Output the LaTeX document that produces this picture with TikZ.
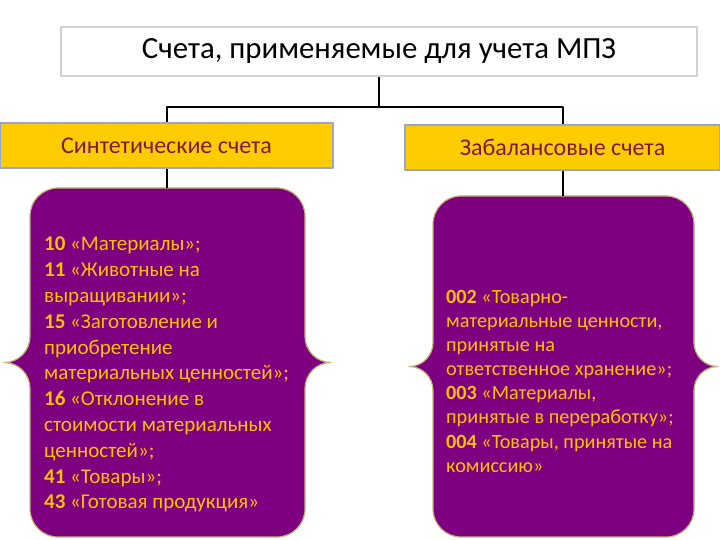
\documentclass[tikz,border=0pt]{standalone}
\usepackage{fontspec}
\setmainfont{Carlito}
\definecolor{plumfill}{RGB}{126,0,128}
\definecolor{plumedge}{RGB}{196,180,120}
\definecolor{goldtext}{RGB}{255,192,0}
\definecolor{barfill}{RGB}{255,204,0}
\definecolor{baredge}{RGB}{155,165,200}
\definecolor{bartext}{RGB}{128,24,56}
\tikzset{
  titlebox/.style={draw=black!18, line width=2pt, fill=white, minimum width=636pt, minimum height=49pt, inner sep=0pt, font=\fontsize{30.8}{36}\selectfont},
  accbar/.style={draw=baredge, line width=1.5pt, fill=barfill, minimum height=45pt, inner sep=0pt, text=bartext, font=\fontsize{24}{28}\selectfont},
  plaque/.style={fill=plumfill, draw=plumedge, line width=1.2pt},
  plaquetext/.style={anchor=north west, inner sep=0pt, align=left, text=goldtext},
  link/.style={draw=black, line width=1.8pt}
}
\begin{document}
\begin{tikzpicture}[x=1pt, y=1pt, line join=round]
  \useasboundingbox (0,0) rectangle (720,540);
  % Заголовок
  \node[titlebox] (title) at (379,488.5) {Счета, применяемые для учета МПЗ};
  % Виды счетов
  \node[accbar, minimum width=333pt] (synth) at (166.5,394.5) {Синтетические счета};
  \node[accbar, minimum width=315pt] (offbal) at (562.5,392.5) {Забалансовые счета};
  % Фигурные блоки
  \filldraw[plaque] (58,352) -- (277,352) arc[start angle=90, end angle=0, radius=28]
    -- (305,203.5) arc[start angle=180, end angle=270, radius=26] arc[start angle=90, end angle=180, radius=26]
    -- (305,31) arc[start angle=0, end angle=-90, radius=28]
    -- (58,3) arc[start angle=270, end angle=180, radius=28]
    -- (30,151.5) arc[start angle=0, end angle=90, radius=26] arc[start angle=270, end angle=360, radius=26]
    -- (30,324) arc[start angle=180, end angle=90, radius=28] -- cycle;
  \filldraw[plaque] (461,344) -- (666,344) arc[start angle=90, end angle=0, radius=28]
    -- (694,197.5) arc[start angle=180, end angle=270, radius=24] arc[start angle=90, end angle=180, radius=24]
    -- (694,31) arc[start angle=0, end angle=-90, radius=28]
    -- (461,3) arc[start angle=270, end angle=180, radius=28]
    -- (433,149.5) arc[start angle=0, end angle=90, radius=24] arc[start angle=270, end angle=360, radius=24]
    -- (433,316) arc[start angle=180, end angle=90, radius=28] -- cycle;
  \coordinate (lplaque) at (167,352);
  \coordinate (rplaque) at (563,344);
  % Тексты счетов
  \node[plaquetext, font=\fontsize{21}{25.8}\selectfont] (synthlist) at (44,303) {%
    \textbf{10} «Материалы»;\\
    \textbf{11} «Животные на\\
    выращивании»;\\
    \textbf{15} «Заготовление и\\
    приобретение\\
    материальных ценностей»;\\
    \textbf{16} «Отклонение в\\
    стоимости материальных\\
    ценностей»;\\
    \textbf{41} «Товары»;\\
    \textbf{43} «Готовая продукция»};
  \node[plaquetext, font=\fontsize{20.2}{24.1}\selectfont] (offballist) at (446,250) {%
    \textbf{002} «Товарно-\\
    материальные ценности,\\
    принятые на\\
    ответственное хранение»;\\
    \textbf{003} «Материалы,\\
    принятые в переработку»;\\
    \textbf{004} «Товары, принятые на\\
    комиссию»};
  % Соединительные линии
  \draw[link] (title.south) -- ++(0,-30) coordinate (fork);
  \draw[link] (synth.north -| lplaque) |- (fork) -| (offbal.north -| rplaque);
  \draw[link] (synth.south -| lplaque) -- (lplaque);
  \draw[link] (offbal.south -| rplaque) -- (rplaque);
\end{tikzpicture}
\end{document}
